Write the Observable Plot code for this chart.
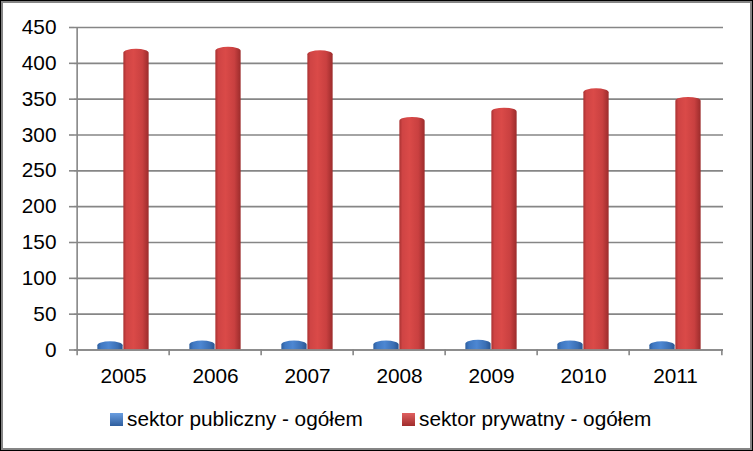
<!DOCTYPE html>
<html>
<head>
<meta charset="utf-8">
<script src="https://cdn.jsdelivr.net/npm/d3@7"></script>
<script src="https://cdn.jsdelivr.net/npm/@observablehq/plot@0.6"></script>
<style>
  html, body { margin: 0; padding: 0; background: #fff; }
  #outer { width: 753px; height: 451px; box-sizing: border-box; border: 1px solid #000; background: #000; }
  #inner { width: 751px; height: 449px; box-sizing: border-box; border: 2px solid #858585; background: #fff; position: relative; overflow: hidden; }
  #legend { position: absolute; left: 0; top: 394px; width: 747px; height: 53px; font-family: "Liberation Sans", Arial, sans-serif; font-size: 20.8px; color: #000; }
  .item { position: absolute; top: 10px; display: flex; align-items: center; }
  .sw { width: 13px; height: 13px; margin-right: 4px; box-sizing: border-box; }
</style>
</head>
<body>
<div id="outer"><div id="inner"><div id="chart"></div><div id="legend"></div></div></div>
<script>
const years = ["2005", "2006", "2007", "2008", "2009", "2010", "2011"];
const publiczny = [8, 9, 9, 9, 10, 9, 8];
const prywatny = [416, 419, 414, 321, 334, 361, 349];
const seriesNames = ["sektor publiczny - ogółem", "sektor prywatny - ogółem"];
const yTicks = [0, 50, 100, 150, 200, 250, 300, 350, 400, 450];

const pubData = years.map((y, i) => ({year: y, value: publiczny[i]}));
const privData = years.map((y, i) => ({year: y, value: prywatny[i]}));

const W = 747, H = 392;
const mL = 71, mR = 27, mT = 24, mB = 45.5;
const step = (W - mL - mR) / years.length;
const barW = 26;
const outer = (step - 2 * barW) / 2;
const gray = "#868686";

const defs = () => {
  const d = d3.create("svg:defs");
  const r = d.append("linearGradient").attr("id", "gRed").attr("x1", 0).attr("x2", 1).attr("y1", 0).attr("y2", 0);
  [[0, "#a93232"], [0.12, "#cf4444"], [0.4, "#da4a48"], [0.75, "#c94040"], [1, "#9c2c2c"]].forEach(([o, c]) => r.append("stop").attr("offset", o).attr("stop-color", c));
  const b = d.append("linearGradient").attr("id", "gBlue").attr("x1", 0).attr("x2", 1).attr("y1", 0).attr("y2", 0);
  [[0, "#2d5e9e"], [0.15, "#3f78c2"], [0.45, "#4d87d2"], [0.8, "#3b6fb4"], [1, "#2a5590"]].forEach(([o, c]) => b.append("stop").attr("offset", o).attr("stop-color", c));
  return d.node();
};

const chart = Plot.plot({
  width: W, height: H,
  marginLeft: mL, marginRight: mR, marginTop: mT, marginBottom: mB,
  style: {fontFamily: "'Liberation Sans', Arial, sans-serif", background: "transparent"},
  x: {type: "band", domain: years, padding: 0, axis: null},
  y: {domain: [0, 450], axis: null},
  marks: [
    defs,
    Plot.gridY(yTicks, {stroke: gray, strokeOpacity: 1, strokeWidth: 1.6}),
    Plot.barY(pubData, {x: "year", y1: () => -20, y2: "value", dy: -2.5, insetLeft: outer, insetRight: outer + barW, fill: "url(#gBlue)", rx: 13, ry: 4, clip: true}),
    Plot.barY(privData, {x: "year", y1: () => -20, y2: "value", dy: -2.5, insetLeft: outer + barW, insetRight: outer, fill: "url(#gRed)", rx: 13, ry: 4, clip: true}),
    Plot.ruleY([0], {stroke: gray, strokeWidth: 1.6}),
    Plot.ruleX([years[0]], {x: d => d, dx: -step / 2, y1: 0, y2: 450, stroke: gray, strokeWidth: 1.6}),
    Plot.ruleX(years, {x: d => d, dx: -step / 2, y1: 0, y2: -8, stroke: gray, strokeWidth: 1.6}),
    Plot.ruleX([years[years.length - 1]], {x: d => d, dx: step / 2, y1: 0, y2: -8, stroke: gray, strokeWidth: 1.6}),
    Plot.axisY(yTicks, {tickSize: 5, tickPadding: 13, fontSize: 20.8, stroke: gray, strokeWidth: 1.6, fill: "#000", label: null}),
    Plot.axisX(years, {tickSize: 0, tickPadding: 18, fontSize: 20.8, fill: "#000", label: null})
  ]
});
document.getElementById("chart").appendChild(chart);

const legend = document.getElementById("legend");
const swatches = [
  "linear-gradient(to bottom, #6a9ee0, #2f5e9e)",
  "linear-gradient(to bottom, #e06060, #a02c2c)"
];
const lefts = [107, 399];
seriesNames.forEach((name, i) => {
  const it = document.createElement("div");
  it.className = "item";
  it.style.left = lefts[i] + "px";
  const sw = document.createElement("div");
  sw.className = "sw";
  sw.style.background = swatches[i];
  it.appendChild(sw);
  const t = document.createElement("span");
  t.textContent = name;
  it.appendChild(t);
  legend.appendChild(it);
});
</script>
</body>
</html>
